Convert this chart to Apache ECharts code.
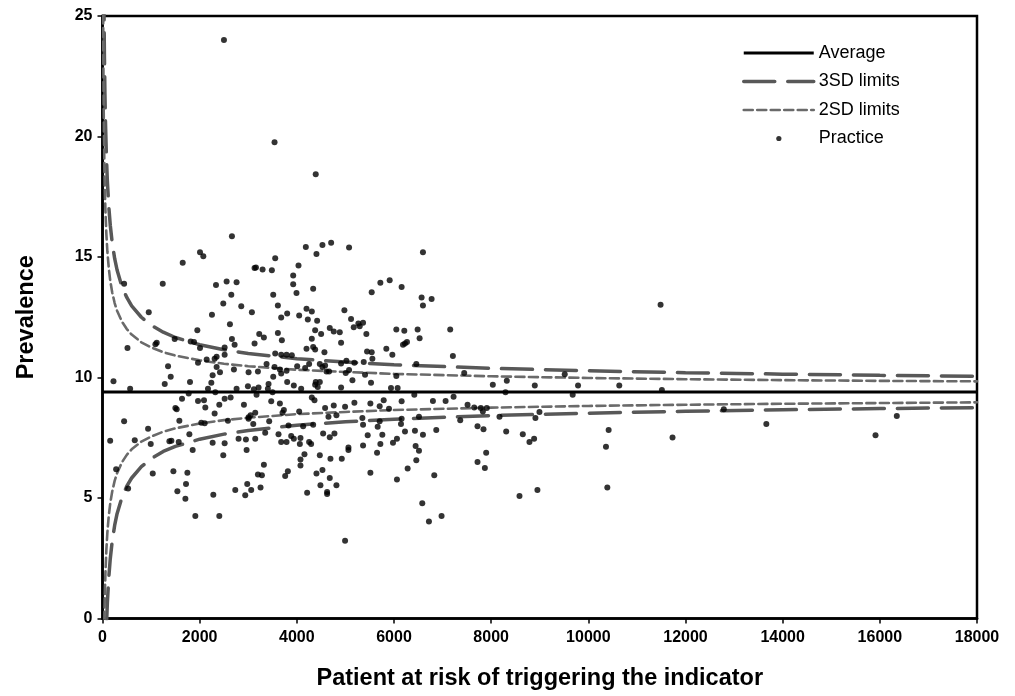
<!DOCTYPE html>
<html>
<head>
<meta charset="utf-8">
<script src="https://cdn.jsdelivr.net/npm/echarts@6/dist/echarts.min.js"></script>
<style>html,body{margin:0;padding:0;background:#fff;}#chart{width:1015px;height:696px;}</style>
</head>
<body>
<div id="chart"></div>
<script>
// ---- data ----
var xTicks = [0, 2000, 4000, 6000, 8000, 10000, 12000, 14000, 16000, 18000];
var yTicks = [0, 5, 10, 15, 20, 25];
var averageValue = 9.4;
var limitN = [10, 15, 20, 25, 30, 40, 50, 60, 80, 100, 130, 160, 200, 250, 300, 400, 500, 600, 800, 1000, 1250, 1500, 2000, 2500, 3000, 4000, 5000, 6000, 8000, 10000, 12000, 14000, 16000, 18000];
var upper3SD = [37.08, 32.0, 28.98, 26.91, 25.38, 23.24, 21.78, 20.70, 19.19, 18.15, 17.08, 16.32, 15.59, 14.94, 14.46, 13.78, 13.32, 12.97, 12.50, 12.17, 11.88, 11.66, 11.36, 11.15, 11.00, 10.78, 10.64, 10.53, 10.38, 10.28, 10.20, 10.14, 10.09, 10.05];
var lower3SD = [-18.28, -13.2, -10.18, -8.11, -6.58, -4.44, -2.98, -1.90, -0.39, 0.65, 1.72, 2.48, 3.21, 3.86, 4.35, 5.02, 5.49, 5.83, 6.30, 6.63, 6.93, 7.14, 7.44, 7.65, 7.80, 8.02, 8.16, 8.27, 8.42, 8.52, 8.60, 8.66, 8.71, 8.75];
var upper2SD = [27.86, 24.47, 22.45, 21.07, 20.06, 18.63, 17.65, 16.94, 15.93, 15.24, 14.52, 14.01, 13.53, 13.09, 12.77, 12.32, 12.01, 11.78, 11.46, 11.25, 11.05, 10.91, 10.71, 10.57, 10.47, 10.32, 10.23, 10.15, 10.05, 9.98, 9.93, 9.89, 9.86, 9.84];
var lower2SD = [-9.06, -5.67, -3.65, -2.27, -1.26, 0.17, 1.15, 1.86, 2.87, 3.56, 4.28, 4.79, 5.27, 5.71, 6.03, 6.48, 6.79, 7.02, 7.34, 7.55, 7.75, 7.89, 8.09, 8.23, 8.33, 8.48, 8.57, 8.65, 8.75, 8.82, 8.87, 8.91, 8.94, 8.97];

var practiceAtRisk = [
3541,2664,2007,2075,1651,3555,3130,3158,3295,3486,4034,3925,3925,445,1240,2336,2555,2760,
2500,4389,
4185,4527,4706,4404,5075,6596,4336,5719,5911,6157,
2651,3514,3993,2486,2856,3610,3801,4048,2253,3075,3678,952,2623,1952,3226,3322,3610,3692,2664,2719,3130,1116,1089,1815,1884,2007,2514,514,1486,3555,3678,3788,3897,2514,2349,2308,2144,1966,3377,1349,2349,2418,2705,3007,3199,3541,3651,3678,3788,4007,1404,1281,1801,2267,2240,226,3514,3418,3801,3938,569,2171,2322,2760,2993,3116,3212,3404,1774,3171,3500,1637,1966,2089,2514,2637,2116,2404,2911,3473,3651,1500,1527,2308,3144,3048,3007,3733,3705,4048,445,1582,2034,2103,2582,3007,3431,938,1788,3103,3349,3623,3829,3884,3938,158,664,993,1377,1418,1569,2267,2514,2801,2952,3144,3678,3788,4075,4062,
5541,6568,6774,6596,4199,4308,4979,4226,4418,5116,5267,5363,5171,5294,4678,4760,4884,4377,4500,5431,4308,4911,7157,6048,6212,6486,6527,6267,6185,6226,4199,4336,4377,4568,5445,5541,5842,5966,7212,4253,4473,4527,4582,4911,5020,5185,5377,5555,6459,4171,4610,4664,5007,5075,5404,6048,7445,5144,5527,4390,4473,4431,4377,4911,5938,6075,4089,8034,6418,7226,4308,4363,5788,6157,6801,7062,4582,4760,4993,5185,5514,5705,5897,7514,7651,7787,7911,7829,4815,4651,5349,5705,6157,6514,7363,8171,4130,4336,5363,5664,6144,7719,7842,6226,6870,4541,4774,4678,5459,5760,6431,6596,4253,4294,5363,5719,5979,6061,5062,6445,
11487,9514,8322,8898,9788,10637,8295,9678,11514,8994,8911,8309,8651,8788,8884,10418,10363,11733,
12788,13664,15911,16349,
281,527,1034,1459,1747,1541,1719,1706,1911,2404,2281,2486,1856,2966,2733,2938,2979,3061,3253,3199,3281,3322,3760,3815,4075,4075,
4157,4473,4692,4925,5062,5651,4404,4527,4678,4486,4815,4212,4623,4623,5514,6061,6281,6459,6514,6829,6582,6719,6979,4993,7719,7870,7897,
8583,8952,10391
];
var practicePrevalence = [
19.76,15.86,15.20,15.03,14.76,14.95,14.54,14.56,14.48,14.45,14.65,14.23,13.87,13.89,13.89,13.84,13.98,13.95,
24.0,18.43,
15.42,15.50,15.59,15.12,15.39,15.20,13.68,13.93,14.04,13.76,
13.43,13.43,13.51,13.07,12.96,12.99,12.66,12.57,12.60,12.71,12.49,12.71,12.21,11.96,11.80,11.66,11.85,11.55,11.60,11.36,11.41,11.44,11.38,11.49,11.47,11.22,11.25,11.22,11.60,11.00,10.94,10.94,10.92,10.94,10.86,10.78,10.75,10.61,10.56,10.47,10.44,10.22,10.33,10.22,10.25,10.44,10.33,10.17,10.28,10.47,10.03,9.73,9.81,10.09,9.78,9.84,10.03,9.73,9.81,9.67,9.53,9.53,9.39,9.53,9.64,9.51,9.59,9.53,9.34,9.28,9.39,9.12,9.03,9.06,9.12,9.17,8.76,8.87,8.87,9.01,8.92,8.73,8.68,8.51,8.54,8.43,8.35,8.65,8.54,8.59,8.18,8.21,8.12,8.10,8.21,8.29,8.18,7.87,7.65,8.07,7.71,7.65,8.01,7.57,7.46,7.38,7.40,7.24,7.35,7.38,7.32,7.29,7.27,7.46,7.43,7.46,7.32,7.32,7.49,7.24,
13.54,13.32,13.26,12.99,12.85,12.74,12.79,12.41,12.35,12.43,12.24,12.27,12.08,12.13,12.05,11.91,11.88,11.96,11.80,11.80,11.61,11.44,11.99,11.99,11.94,11.99,11.63,11.47,11.36,11.41,11.19,11.27,11.16,11.05,11.08,11.05,11.19,10.94,10.89,10.56,10.56,10.44,10.50,10.58,10.69,10.61,10.64,10.78,10.56,10.39,10.25,10.25,10.19,10.31,10.11,10.06,10.19,9.89,9.78,9.81,9.81,9.61,9.70,9.59,9.56,9.56,9.53,9.70,9.28,9.20,9.17,9.06,9.06,9.01,9.03,9.03,8.73,8.84,8.79,8.95,8.92,8.81,8.70,8.87,8.76,8.73,8.73,8.59,8.43,8.37,8.32,8.18,8.29,8.37,8.23,8.37,7.98,8.04,8.04,7.96,8.07,7.98,7.85,7.76,7.82,7.68,7.68,7.52,7.60,7.62,7.79,7.62,7.32,7.24,7.18,7.24,7.29,7.46,7.10,7.16,
13.02,10.14,9.86,9.67,9.67,9.67,9.39,9.28,9.48,8.57,8.32,7.76,7.65,7.32,7.46,7.82,7.13,7.51,
8.68,8.07,7.60,8.40,
6.19,5.39,6.02,6.11,6.05,5.28,5.58,4.97,4.25,4.25,5.14,6.77,6.99,6.99,5.33,5.11,5.58,5.33,5.44,5.97,5.94,6.38,5.91,6.11,6.60,6.35,
6.82,6.77,6.63,6.63,6.99,6.88,6.02,6.16,5.83,5.53,5.53,5.22,5.25,5.17,6.05,5.77,6.22,6.57,6.96,5.94,4.78,4.03,4.25,3.23,6.49,6.24,6.88,
5.08,5.33,5.44
];

// ---- build series data ----
function pairs(xs, ys) { var out = []; for (var i = 0; i < xs.length; i++) out.push([xs[i], ys[i]]); return out; }
var avgData = [[xTicks[0], averageValue], [xTicks[xTicks.length - 1], averageValue]];
var FONT = "'Liberation Sans', Arial, Helvetica, sans-serif";

var chart = echarts.init(document.getElementById('chart'), null, { renderer: 'canvas' });
var sd3Style = { color: '#585858', width: 3.5, type: [31, 13], cap: 'round' };
var sd2Style = { color: '#6a6a6a', width: 2.6, type: [9, 4.5], cap: 'round' };
var hideSym = { opacity: 0 };
chart.setOption({
  animation: false,
  backgroundColor: '#fff',
  grid: { left: 102.5, right: 38, top: 16, bottom: 77.5, show: true, borderColor: '#000', borderWidth: 2.5, backgroundColor: 'transparent' },
  legend: {
    orient: 'vertical', left: 742, top: 44, padding: 0,
    itemWidth: 70, itemHeight: 14, itemGap: 10.5,
    textStyle: { fontFamily: FONT, fontSize: 18, color: '#000' },
    data: [
      { name: 'Average', itemStyle: hideSym, lineStyle: { width: 3, color: '#000' } },
      { name: '3SD limits', itemStyle: hideSym, lineStyle: { width: 3.5, color: '#585858', type: [31, 13] } },
      { name: '2SD limits', itemStyle: hideSym, lineStyle: { width: 2.6, color: '#6a6a6a', type: [9, 4.5] } },
      { name: 'Practice', icon: 'path://M0,0M70,14M32.5,7a2.6,2.6,0,1,0,5.2,0a2.6,2.6,0,1,0,-5.2,0Z', itemStyle: { color: '#000' } }
    ]
  },
  xAxis: {
    type: 'value', min: xTicks[0], max: xTicks[xTicks.length - 1], interval: 2000,
    name: 'Patient at risk of triggering the indicator', nameLocation: 'middle', nameGap: 48,
    nameTextStyle: { fontFamily: FONT, fontSize: 23.5, fontWeight: 'bold', color: '#000' },
    axisLine: { show: true, onZero: false, lineStyle: { color: '#000', width: 2.5 } },
    axisTick: { show: true, length: 5, lineStyle: { color: '#000', width: 1.5 } },
    axisLabel: { fontFamily: FONT, fontSize: 16, fontWeight: 'bold', color: '#000', margin: 11, formatter: function (v) { return String(v); } },
    splitLine: { show: false }
  },
  yAxis: {
    type: 'value', min: yTicks[0], max: yTicks[yTicks.length - 1], interval: 5,
    name: 'Prevalence', nameLocation: 'middle', nameGap: 64,
    nameTextStyle: { fontFamily: FONT, fontSize: 23.5, fontWeight: 'bold', color: '#000' },
    axisLine: { show: true, onZero: false, lineStyle: { color: '#000', width: 2.5 } },
    axisTick: { show: true, length: 5, lineStyle: { color: '#000', width: 1.5 } },
    axisLabel: { fontFamily: FONT, fontSize: 16, fontWeight: 'bold', color: '#000', margin: 10 },
    splitLine: { show: false }
  },
  series: [
    { name: 'Average', type: 'line', data: avgData, symbol: 'none', lineStyle: { color: '#000', width: 3 }, itemStyle: { color: '#000' }, z: 3 },
    { name: '3SD limits', type: 'line', data: pairs(limitN, upper3SD), symbol: 'none', clip: true, lineStyle: sd3Style, itemStyle: { color: '#585858' }, z: 2 },
    { name: '3SD limits', type: 'line', data: pairs(limitN, lower3SD), symbol: 'none', clip: true, lineStyle: sd3Style, itemStyle: { color: '#585858' }, z: 2 },
    { name: '2SD limits', type: 'line', data: pairs(limitN, upper2SD), symbol: 'none', clip: true, lineStyle: sd2Style, itemStyle: { color: '#6a6a6a' }, z: 2 },
    { name: '2SD limits', type: 'line', data: pairs(limitN, lower2SD), symbol: 'none', clip: true, lineStyle: sd2Style, itemStyle: { color: '#6a6a6a' }, z: 2 },
    { name: 'Practice', type: 'scatter', data: pairs(practiceAtRisk, practicePrevalence), symbol: 'circle', symbolSize: 6, itemStyle: { color: '#000' }, z: 4 }
  ]
});
</script>
</body>
</html>
